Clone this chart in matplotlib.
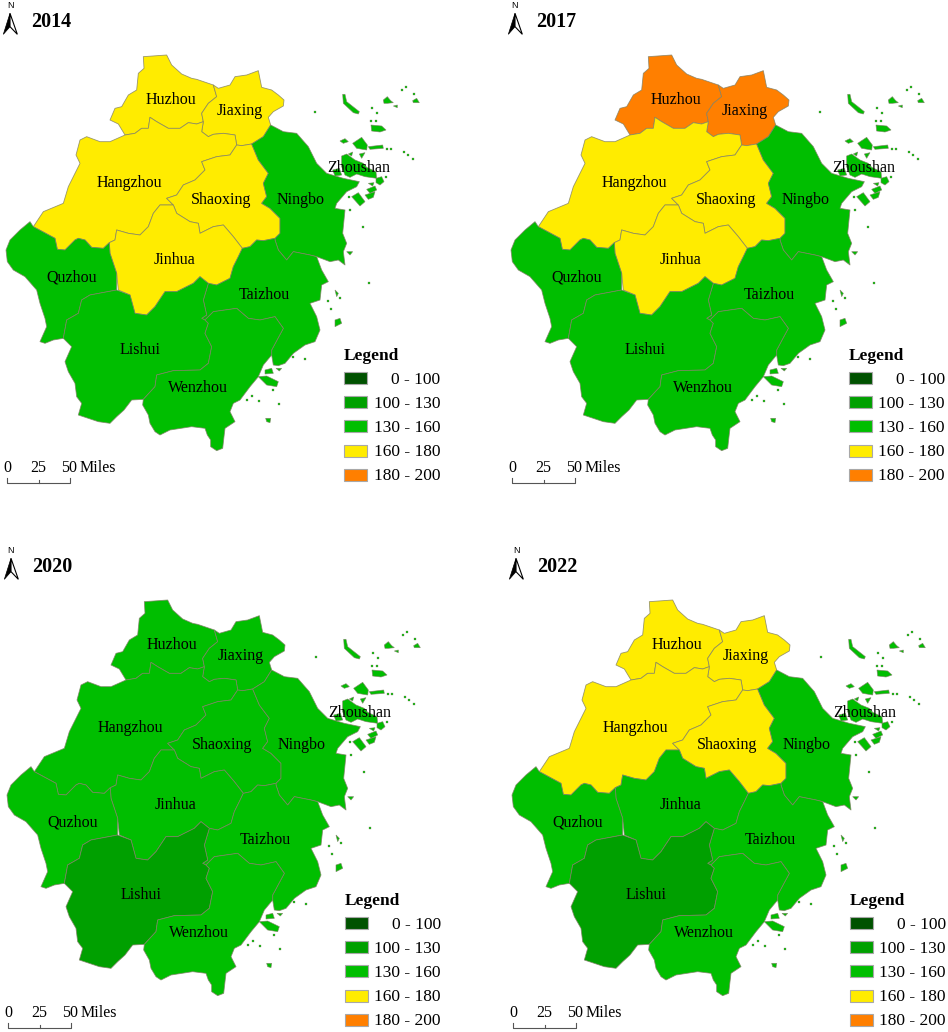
import matplotlib
matplotlib.use('Agg')
import matplotlib.pyplot as plt
from matplotlib.patches import Polygon, Rectangle

plt.rcParams['font.family'] = ['Liberation Serif', 'DejaVu Serif']

# outlines, 1 map unit = 1/3 pixel
huzhou = [(430,170),(500,165),(515,195),(545,222),(575,235),(590,238),(640,255),(650,290),(625,310),(605,340),(610,365),(590,372),(565,368),(540,385),(505,385),(470,365),(450,352),(445,385),(425,385),(405,400),(375,405),(355,372),(330,360),(345,325),(365,320),(385,285),(410,270),(415,220),(432,205)]
jiaxing = [(650,290),(640,255),(655,265),(690,255),(705,230),(740,225),(775,212),(785,262),(815,270),(835,285),(852,300),(850,318),(820,335),(805,352),(812,375),(790,410),(755,432),(725,437),(710,435),(705,405),(670,400),(640,403),(625,410),(605,395),(610,365),(605,340),(625,310)]
hangzhou = [(375,405),(405,400),(425,385),(445,385),(450,352),(470,365),(505,385),(540,385),(565,368),(590,372),(610,365),(605,395),(625,410),(640,403),(670,400),(705,405),(710,435),(690,465),(650,470),(605,485),(615,510),(585,540),(550,555),(530,585),(500,595),(520,615),(480,615),(460,640),(445,680),(420,705),(385,700),(350,690),(345,720),(328,728),(310,745),(275,742),(255,720),(235,715),(225,720),(195,750),(172,748),(165,715),(100,680),(130,635),(190,610),(205,560),(240,490),(228,465),(240,420),(260,410),(300,425),(330,425)]
shaoxing = [(710,435),(725,437),(755,432),(775,480),(805,520),(790,550),(800,590),(785,610),(810,625),(840,655),(840,700),(825,715),(790,722),(770,720),(750,740),(727,745),(700,710),(670,675),(640,680),(600,700),(595,670),(570,665),(530,640),(520,615),(500,595),(530,585),(550,555),(585,540),(615,510),(605,485),(650,470),(690,465)]
ningbo = [(755,432),(790,410),(812,375),(850,395),(890,400),(925,440),(950,490),(980,520),(1030,535),(1078,545),(1070,560),(1040,575),(1010,610),(1005,625),(1035,630),(1030,680),(1028,700),(1040,730),(1030,755),(1035,795),(1015,780),(990,785),(950,770),(930,765),(880,755),(860,780),(835,750),(825,720),(825,715),(840,700),(840,655),(810,625),(785,610),(800,590),(790,550),(805,520),(775,480)]
jinhua = [(350,690),(385,700),(420,705),(445,680),(460,640),(480,615),(520,615),(530,640),(570,665),(595,670),(600,700),(640,680),(670,675),(700,710),(727,745),(715,770),(700,800),(690,835),(650,855),(625,850),(600,830),(580,850),(530,875),(495,875),(465,920),(440,945),(405,940),(390,885),(355,870),(350,820),(330,760),(328,728),(345,720)]
quzhou = [(100,680),(90,665),(60,690),(30,720),(18,750),(22,785),(40,810),(75,830),(110,870),(120,910),(135,955),(140,980),(120,1025),(135,1030),(160,1020),(190,1015),(200,960),(235,940),(245,900),(270,885),(350,870),(350,820),(330,760),(328,728),(310,745),(275,742),(255,720),(235,715),(225,720),(195,750),(172,748),(165,715)]
taizhou = [(625,850),(650,855),(690,835),(700,800),(715,770),(727,745),(750,740),(770,720),(790,722),(825,715),(825,720),(835,750),(860,780),(880,755),(930,765),(950,770),(965,810),(985,845),(965,855),(960,900),(930,910),(950,950),(960,990),(945,1025),(915,1035),(880,1060),(855,1090),(835,1097),(820,1095),(815,1065),(815,1050),(850,985),(825,950),(780,960),(745,955),(710,925),(640,935),(615,960),(605,955),(620,945),(610,900)]
lishui = [(350,870),(390,885),(405,940),(440,945),(465,920),(495,875),(530,875),(580,850),(600,830),(625,850),(610,900),(620,945),(605,955),(615,960),(625,970),(615,1000),(635,1040),(625,1090),(600,1110),(520,1112),(470,1125),(465,1160),(430,1198),(395,1200),(372,1230),(350,1250),(330,1270),(295,1265),(265,1255),(235,1245),(245,1210),(230,1190),(225,1150),(205,1115),(195,1085),(215,1040),(205,1030),(190,1015),(200,960),(235,940),(245,900),(270,885)]
wenzhou = [(640,935),(710,925),(745,955),(780,960),(825,950),(850,985),(815,1050),(815,1065),(790,1095),(775,1130),(750,1160),(720,1200),(700,1210),(690,1235),(705,1265),(675,1285),(672,1310),(668,1345),(650,1352),(632,1340),(632,1320),(622,1305),(615,1285),(575,1280),(510,1290),(480,1305),(465,1295),(450,1270),(445,1245),(428,1215),(430,1198),(465,1160),(470,1125),(520,1112),(600,1110),(625,1090),(635,1040),(615,1000),(625,970),(615,960)]

zhoushan_islands = [
    [(1028,283),(1035,283),(1040,305),(1078,335),(1075,342),(1060,338),(1030,310)],
    [(1150,300),(1162,290),(1172,302),(1180,308),(1162,310),(1152,310)],
    [(1238,302),(1250,295),(1258,308),(1240,308)],
    [(1180,318),(1192,315),(1192,323)],
    [(1113,375),(1145,378),(1158,390),(1140,396),(1115,393)],
    [(1020,423),(1035,416),(1045,425),(1030,430)],
    [(1058,430),(1085,412),(1102,435),(1100,450),(1070,445)],
    [(1105,440),(1148,435),(1150,445),(1110,448)],
    [(1078,462),(1095,458),(1085,475)],
    [(1045,462),(1058,456),(1055,468)],
    [(1025,468),(1040,462),(1065,480),(1090,490),(1100,502),(1128,515),(1130,535),(1095,530),(1070,522),(1050,532),(1035,525),(1025,500)],
    [(998,510),(1018,505),(1025,525),(1005,528)],
    [(1128,535),(1145,530),(1152,545),(1140,555),(1128,548)],
    [(1100,568),(1125,558),(1130,570),(1110,580)],
    [(1095,585),(1125,575),(1120,592),(1105,598)],
    [(1055,590),(1075,578),(1095,605),(1080,618)],
    [(1105,550),(1122,548),(1118,558)],
]
south_islands = [
    [(1040,755),(1058,755),(1050,765)],
    [(795,1110),(815,1105),(820,1120),(795,1122)],
    [(775,1130),(800,1128),(835,1145),(830,1160),(800,1155)],
    [(828,1105),(845,1105),(838,1113)],
    [(1005,960),(1020,955),(1025,970),(1005,980)],
    [(1005,870),(1015,880),(1010,890)],
    [(797,1255),(812,1255),(810,1268),(800,1265)],
]
islets_x = [945,1115,1132,1112,1128,1162,1172,1212,1225,1240,1205,1218,1242,1158,1050,1090,1048,1108,985,1020,993,880,915,742,778,838,755,820]
islets_y = [335,325,338,362,362,447,448,455,465,477,270,262,282,530,630,680,592,848,902,895,928,1072,1078,1200,1202,1212,1188,1170]

region_names = ['Huzhou', 'Jiaxing', 'Hangzhou', 'Shaoxing', 'Ningbo', 'Jinhua', 'Quzhou', 'Taizhou', 'Lishui', 'Wenzhou']
region_shapes = [huzhou, jiaxing, hangzhou, shaoxing, ningbo, jinhua, quzhou, taizhou, lishui, wenzhou]
label_x = [513, 720, 387, 663, 903, 525, 216, 792, 420, 595]
label_y = [294, 327, 545, 594, 594, 775, 828, 880, 1045, 1158]

# legend classes and the class of each region by year (Zhoushan stays in 130 - 160)
class_labels = ['0 - 100', '100 - 130', '130 - 160', '160 - 180', '180 - 200']
class_colors = ['#005200', '#00A000', '#00BE00', '#FFEC00', '#FF7F00']
years = ['2014', '2017', '2020', '2022']
classes_2014 = [3, 3, 3, 3, 2, 3, 2, 2, 2, 2]
classes_2017 = [4, 4, 3, 3, 2, 3, 2, 2, 2, 2]
classes_2020 = [2, 2, 2, 2, 2, 2, 2, 2, 1, 2]
classes_2022 = [3, 3, 3, 3, 2, 2, 2, 2, 1, 2]
year_classes = [classes_2014, classes_2017, classes_2020, classes_2022]
panel_x = [0, 505, 1, 506]
panel_y = [0, 0, 545, 545]

W, H = 948, 1032
EDGE = (0.50, 0.50, 0.40, 0.8)

fig = plt.figure(figsize=(W / 100, H / 100), dpi=100)


def draw_panel(year, classes, px, py):
    ax = fig.add_axes([px / W, 1 - (py + 510) / H, 450 / W, 510 / H])
    ax.set_xlim(0, 1350)
    ax.set_ylim(1530, 0)
    ax.axis('off')

    # north arrow
    ax.add_patch(Polygon([(30, 40), (10, 103), (30, 80)], fc='black', ec='black', lw=0.5))
    ax.add_patch(Polygon([(30, 40), (52, 103), (30, 80)], fc='white', ec='black', lw=0.8))
    ax.text(30, 17, 'N', fontsize=6.5, ha='center', va='center', family='Liberation Sans')
    ax.text(92, 65, year, fontsize=14.5, fontweight='bold', va='center')

    for shape, c in zip(region_shapes, classes):
        ax.add_patch(Polygon(shape, fc=class_colors[c], ec=EDGE, lw=0.6, joinstyle='round'))
    for isl in zhoushan_islands + south_islands:
        ax.add_patch(Polygon(isl, fc=class_colors[2], ec=EDGE, lw=0.5))
    ax.scatter(islets_x, islets_y, s=2.5, marker='s', c=class_colors[2], edgecolors=[EDGE], linewidths=0.3)

    for name, x, y in zip(region_names, label_x, label_y):
        ax.text(x, y + 5, name, fontsize=11.5, ha='center', va='center', color='black')
    ax.text(1075, 503, 'Zhoushan', fontsize=11.5, ha='center', va='center', color='black')

    # legend
    ax.text(1032, 1067, 'Legend', fontsize=12.5, fontweight='bold', va='center')
    for i, (lab, col) in enumerate(zip(class_labels, class_colors)):
        yc = 1134 + 72.5 * i
        ax.add_patch(Rectangle((1032, yc - 18), 68, 36, fc=col, ec='#a8a8a8', lw=0.8))
        ax.text(1320, yc + 5, lab, fontsize=12.5, ha='right', va='center')

    # scale bar
    ax.plot([22, 22, 210, 210], [1435, 1450, 1450, 1435], color='#555555', lw=0.8)
    ax.plot([116, 116], [1440, 1450], color='#555555', lw=0.8)
    for x, t in zip([22, 114, 208], ['0', '25', '50']):
        ax.text(x, 1405, t, fontsize=11.5, ha='center', va='center')
    ax.text(240, 1405, 'Miles', fontsize=11.5, va='center')


for year, classes, px, py in zip(years, year_classes, panel_x, panel_y):
    draw_panel(year, classes, px, py)

fig.savefig('out.png', dpi=100, facecolor='white')
